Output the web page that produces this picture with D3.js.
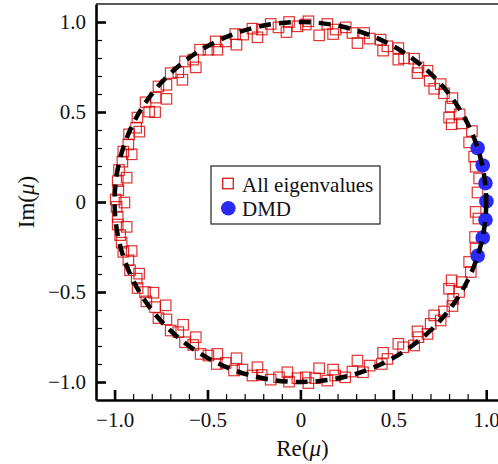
<!DOCTYPE html>
<html><head><meta charset="utf-8">
<script src="https://cdn.jsdelivr.net/npm/d3@7"></script>
<style>body{margin:0;background:#fff}svg{display:block}</style>
</head><body>
<svg id="chart" width="498" height="464"></svg>
<script>
// All eigenvalues (Re, Im)
const eigRe = [0.809,0.800,0.814,0.868,0.857,0.818,0.773,0.923,0.908,0.935,0.943,0.962,0.953,0.943,0.958,0.940,0.943,0.908,0.917,0.814,
0.868,0.800,0.822,0.854,0.773,0.818,0.755,0.720,0.701,0.684,0.630,0.635,0.612,0.553,0.527,0.468,0.445,0.438,0.373,0.337,
0.307,0.280,0.241,0.187,0.176,0.145,0.101,0.079,0.043,0.029,-0.016,-0.061,-0.070,-0.115,-0.160,-0.208,-0.231,-0.258,-0.312,-0.357,
-0.344,-0.402,-0.450,-0.447,-0.495,-0.537,-0.563,-0.577,-0.621,-0.631,-0.657,-0.698,-0.721,-0.764,-0.725,-0.782,-0.829,-0.791,-0.836,-0.876,
-0.881,-0.868,-0.917,-0.926,-0.908,-0.953,-0.962,-0.970,-0.935,-0.983,-0.983,-0.989,-0.947,-0.994,-0.980,-0.983,-0.935,-0.976,-0.958,-0.908,
-0.953,-0.926,-0.922,-0.867,-0.884,-0.877,-0.814,-0.782,-0.833,-0.779,-0.721,-0.764,-0.721,-0.698,-0.657,-0.635,-0.621,-0.577,-0.563,-0.540,
-0.495,-0.456,-0.447,-0.402,-0.351,-0.344,-0.308,-0.258,-0.231,-0.208,-0.160,-0.118,-0.075,-0.061,-0.016,0.029,0.043,0.101,0.145,0.176,
0.190,0.244,0.280,0.307,0.343,0.373,0.432,0.445,0.468,0.527,0.527,0.558,0.612,0.635,0.630,0.684,0.696,0.755,0.720];
const eigIm = [0.530,0.469,0.432,0.437,0.487,0.577,0.604,0.394,0.331,0.252,0.196,0.131,0.053,-0.055,-0.092,-0.194,-0.259,-0.333,-0.389,-0.435,
-0.445,-0.482,-0.538,-0.500,-0.608,-0.578,-0.658,-0.630,-0.677,-0.733,-0.719,-0.751,-0.797,-0.807,-0.788,-0.872,-0.838,-0.900,-0.909,-0.946,
-0.881,-0.942,-0.974,-0.964,-0.931,-0.992,-0.924,-0.979,-1.006,-0.974,-0.979,-0.998,-0.946,-0.974,-0.987,-0.961,-0.918,-0.964,-0.931,-0.936,
-0.868,-0.894,-0.900,-0.844,-0.853,-0.844,-0.751,-0.794,-0.779,-0.682,-0.723,-0.714,-0.652,-0.645,-0.574,-0.584,-0.552,-0.504,-0.500,-0.478,
-0.426,-0.398,-0.379,-0.324,-0.272,-0.277,-0.226,-0.184,-0.138,-0.125,-0.082,-0.027,-0.003,0.014,0.066,0.116,0.135,0.178,0.224,0.265,
0.280,0.320,0.376,0.391,0.413,0.469,0.502,0.499,0.554,0.580,0.573,0.642,0.651,0.716,0.721,0.679,0.781,0.791,0.748,0.846,
0.846,0.892,0.846,0.892,0.933,0.874,0.930,0.963,0.915,0.958,0.989,0.970,0.944,1.000,0.976,0.986,1.004,0.926,0.989,0.933,
0.958,0.970,0.939,0.883,0.939,0.908,0.902,0.841,0.865,0.855,0.791,0.799,0.796,0.748,0.716,0.729,0.674,0.655,0.629];
// DMD eigenvalues
const dmdRe = [0.954,0.981,0.996,1.001,0.996,0.981,0.954];
const dmdIm = [0.300,0.203,0.105,0.003,-0.099,-0.198,-0.299];
// ticks
const majorTicks = [-1.0,-0.5,0,0.5,1.0];
const majorLabels = ["\u22121.0","\u22120.5","0","0.5","1.0"];
const minorTicks = [-1.0,-0.9,-0.8,-0.7,-0.6,-0.5,-0.4,-0.3,-0.2,-0.1,0,0.1,0.2,0.3,0.4,0.5,0.6,0.7,0.8,0.9,1.0];
const legendLabels = ["All eigenvalues","DMD"];
const xDomain = [-1.1,1.1];
const yDomain = [-1.1,1.1];

const svg = d3.select("#chart");
const font = "'Liberation Serif','Times New Roman',serif";
const L = 96, R = 504.8, T = 4, B = 400;
const x = d3.scaleLinear().domain(xDomain).range([L,R]);
const y = d3.scaleLinear().domain(yDomain).range([B,T]);

// frame top & right
svg.append("line").attr("x1",L).attr("x2",R).attr("y1",T).attr("y2",T).attr("stroke","#222").attr("stroke-width",1.6);
svg.append("line").attr("x1",R).attr("x2",R).attr("y1",T).attr("y2",B).attr("stroke","#222").attr("stroke-width",1.6);

// eigenvalue squares
const sq = 10.5;
const pts = eigRe.map((r,i)=>({re:r, im:eigIm[i]}));
svg.append("g").selectAll("rect").data(pts).join("rect")
  .attr("x",d=>x(d.re)-sq/2).attr("y",d=>y(d.im)-sq/2)
  .attr("width",sq).attr("height",sq)
  .attr("fill","none").attr("stroke","#d80000").attr("stroke-width",1.2).attr("stroke-opacity",0.8);

// DMD circles
const dmd = dmdRe.map((r,i)=>({re:r, im:dmdIm[i]}));
svg.append("g").selectAll("circle").data(dmd).join("circle")
  .attr("cx",d=>x(d.re)).attr("cy",d=>y(d.im)).attr("r",7.3)
  .attr("fill","#2a2af2");

// unit circle (dashed)
svg.append("ellipse").attr("cx",x(0)).attr("cy",y(0))
  .attr("rx",x(1)-x(0)).attr("ry",y(0)-y(1))
  .attr("fill","none").attr("stroke","#000").attr("stroke-width",4.5)
  .attr("stroke-dasharray","12,8");

// axes
function styleAxis(g){
  g.select(".domain").attr("stroke","#000").attr("stroke-width",2.6);
  g.selectAll("text").attr("font-family",font).attr("font-size",21).attr("fill","#111");
}
const gxMinor = svg.append("g").attr("transform",`translate(0,${B})`)
  .call(d3.axisBottom(x).tickValues(minorTicks).tickSize(-6).tickSizeOuter(0).tickFormat(""));
gxMinor.selectAll(".tick line").attr("stroke-width",1.2);
gxMinor.select(".domain").remove();
const gyMinor = svg.append("g").attr("transform",`translate(${L},0)`)
  .call(d3.axisLeft(y).tickValues(minorTicks).tickSize(-6).tickSizeOuter(0).tickFormat(""));
gyMinor.selectAll(".tick line").attr("stroke-width",1.2);
gyMinor.select(".domain").remove();

const gx = svg.append("g").attr("transform",`translate(0,${B})`)
  .call(d3.axisBottom(x).tickValues(majorTicks).tickSize(-10).tickSizeOuter(0).tickPadding(12)
    .tickFormat((d,i)=>majorLabels[i]));
gx.selectAll(".tick line").attr("stroke-width",2.6);
styleAxis(gx);
const gy = svg.append("g").attr("transform",`translate(${L},0)`)
  .call(d3.axisLeft(y).tickValues(majorTicks).tickSize(-10).tickSizeOuter(0).tickPadding(10)
    .tickFormat((d,i)=>majorLabels[i]));
gy.selectAll(".tick line").attr("stroke-width",2.6);
styleAxis(gy);

// axis titles
const xt = svg.append("text").attr("x",x(0)+2).attr("y",456).attr("text-anchor","middle")
  .attr("font-family",font).attr("font-size",23).attr("fill","#111");
xt.append("tspan").text("Re(");
xt.append("tspan").attr("font-style","italic").text("\u03bc");
xt.append("tspan").text(")");
const yt = svg.append("text").attr("transform",`translate(34,${y(0)}) rotate(-90)`).attr("text-anchor","middle")
  .attr("font-family",font).attr("font-size",23).attr("fill","#111");
yt.append("tspan").text("Im(");
yt.append("tspan").attr("font-style","italic").text("\u03bc");
yt.append("tspan").text(")");

// legend
const lg = svg.append("g");
lg.append("rect").attr("x",211).attr("y",166).attr("width",169).attr("height",58)
  .attr("fill","#fff").attr("stroke","#222").attr("stroke-width",1.2);
lg.append("rect").attr("x",228-5.25).attr("y",183.5-5.25).attr("width",sq).attr("height",sq)
  .attr("fill","none").attr("stroke","#d80000").attr("stroke-width",1.2);
lg.append("circle").attr("cx",228.3).attr("cy",208.3).attr("r",7.3).attr("fill","#2a2af2");
lg.selectAll("text.lab").data(legendLabels).join("text").attr("class","lab")
  .attr("x",242).attr("y",(d,i)=>191.5+i*24)
  .attr("font-family",font).attr("font-size",21).attr("fill","#111").text(d=>d);
</script>
</body></html>
